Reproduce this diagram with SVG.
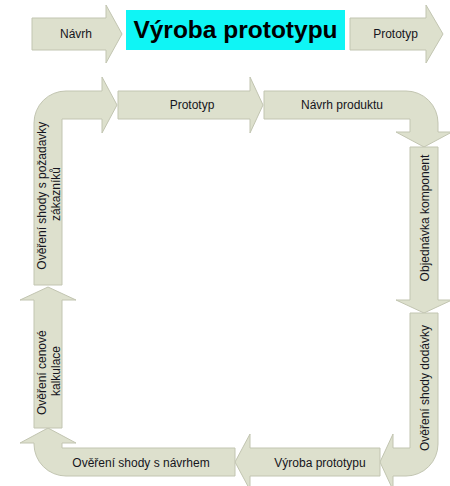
<svg xmlns="http://www.w3.org/2000/svg" width="450" height="486" viewBox="0 0 450 486">
  <style>
    .shape { fill: #dde0cd; stroke: #c2c5b1; stroke-width: 1; }
    .lbl { font-family: "Liberation Sans", Arial, sans-serif; font-size: 12px; fill: #151520; text-anchor: middle; }
    .title { font-family: "Liberation Sans", Arial, sans-serif; font-size: 24.5px; font-weight: bold; fill: #000; text-anchor: middle; }
  </style>
  <rect width="450" height="486" fill="#ffffff"/>

  <!-- header row: input, process title, output -->
  <g id="input-navrh">
    <path class="shape" d="M32,18 H106 V5 L122,34 L106,63 V50 H32 Z"/>
    <text class="lbl" x="76" y="38">Návrh</text>
  </g>
  <g id="title">
    <rect x="126" y="10" width="219" height="40" fill="#0ff5f5"/>
    <text class="title" x="235.5" y="38">Výroba prototypu</text>
  </g>
  <g id="output-prototyp">
    <path class="shape" d="M350,18 H426 V5 L443,34 L426,63 V50 H350 Z"/>
    <text class="lbl" x="395.5" y="38">Prototyp</text>
  </g>

  <!-- process loop, clockwise -->
  <g id="step-overeni-pozadavky">
    <path class="shape" d="M34,285 V123 A32,32 0 0 1 66,91 H102 V77 L117,105 L102,133 V119 H62 V285 Z"/>
    <text class="lbl" transform="translate(46,194) rotate(-90)">
      <tspan x="0" y="0">Ověření shody s požadavky</tspan>
      <tspan x="0" dy="14">zákazníků</tspan>
    </text>
  </g>
  <g id="step-prototyp">
    <path class="shape" d="M118,91 H250 V77 L263,105 L250,133 V119 H118 Z"/>
    <text class="lbl" x="192" y="109">Prototyp</text>
  </g>
  <g id="step-navrh-produktu">
    <path class="shape" d="M264,91 H406 A32,32 0 0 1 438,123 V132 H452 L424,147 L396,132 H410 V119 H264 Z"/>
    <text class="lbl" x="342" y="109">Návrh produktu</text>
  </g>
  <g id="step-objednavka">
    <path class="shape" d="M410,147 H438 V300 H452 L424,313 L396,300 H410 Z"/>
    <text class="lbl" transform="translate(429,218) rotate(-90)">Objednávka komponent</text>
  </g>
  <g id="step-overeni-dodavky">
    <path class="shape" d="M410,313 H438 V444 A32,32 0 0 1 406,476 H393 V490 L380,462 L393,434 V448 H410 Z"/>
    <text class="lbl" transform="translate(429,388) rotate(-90)">Ověření shody dodávky</text>
  </g>
  <g id="step-vyroba-prototypu">
    <path class="shape" d="M380,448 V476 H250 V490 L235,462 L250,434 V448 Z"/>
    <text class="lbl" x="320" y="467">Výroba prototypu</text>
  </g>
  <g id="step-overeni-navrh">
    <path class="shape" d="M235,448 V476 H66 A32,32 0 0 1 34,444 V443 H20 L48,428 L76,443 H62 V448 Z"/>
    <text class="lbl" x="141" y="467">Ověření shody s návrhem</text>
  </g>
  <g id="step-overeni-kalkulace">
    <path class="shape" d="M62,428 H34 V300 H20 L48,287 L76,300 H62 Z"/>
    <text class="lbl" transform="translate(46,371) rotate(-90)">
      <tspan x="0" y="0">Ověření  cenové</tspan>
      <tspan x="0" dy="14">kalkulace</tspan>
    </text>
  </g>
</svg>
